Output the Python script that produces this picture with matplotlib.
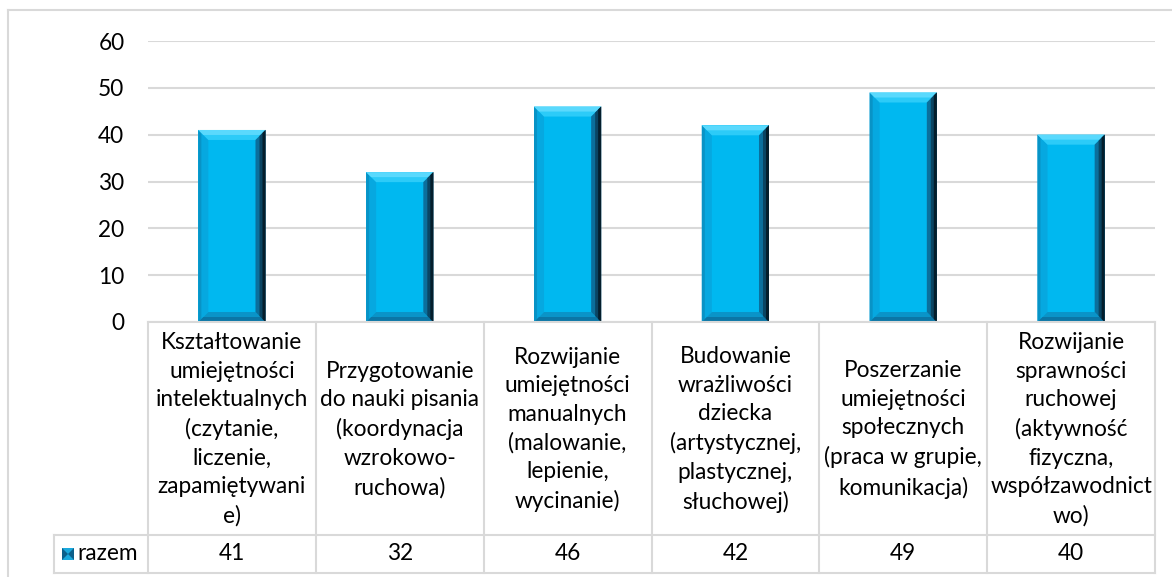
import matplotlib
matplotlib.use("Agg")
import matplotlib.pyplot as plt
from matplotlib.patches import Polygon
from matplotlib.lines import Line2D

# ====== Dane ======
categories = [
    "Kształtowanie\numiejętności\nintelektualnych\n(czytanie,\nliczenie,\nzapamiętywani\ne)",
    "Przygotowanie\ndo nauki pisania\n(koordynacja\nwzrokowo-\nruchowa)",
    "Rozwijanie\numiejętności\nmanualnych\n(malowanie,\nlepienie,\nwycinanie)",
    "Budowanie\nwrażliwości\ndziecka\n(artystycznej,\nplastycznej,\nsłuchowej)",
    "Poszerzanie\numiejętności\nspołecznych\n(praca w grupie,\nkomunikacja)",
    "Rozwijanie\nsprawności\nruchowej\n(aktywność\nfizyczna,\nwspółzawodnict\nwo)",
]
values = [41, 32, 46, 42, 49, 40]
series_name = "razem"
y_ticks = [0, 10, 20, 30, 40, 50, 60]

# ====== Układ (piksele) ======
W, H = 1172, 577
PLOT_L, PLOT_R = 148, 1155
PLOT_T, PLOT_B = 41, 322
TABLE_L, TABLE_B = 54, 573
HEAD_H = 213          # wysokość wiersza z nazwami kategorii
GRID = "#d9d9d9"
FACE = "#00b8f0"

plt.rcParams["font.family"] = ["Lato", "DejaVu Sans"]
FS = 16.3

fig = plt.figure(figsize=(W / 100, H / 100), dpi=100)

# ramka wykresu
fig.add_artist(Line2D([8 / W, 8 / W], [0, 1 - 10 / H], color=GRID, lw=1.5))
fig.add_artist(Line2D([8 / W, 1], [1 - 10 / H, 1 - 10 / H], color=GRID, lw=1.5))

ax = fig.add_axes([PLOT_L / W, 1 - PLOT_B / H, (PLOT_R - PLOT_L) / W, (PLOT_B - PLOT_T) / H])
ax.set_xlim(-0.5, len(values) - 0.5)
ax.set_ylim(y_ticks[0], y_ticks[-1])
ax.set_yticks(y_ticks)
ax.set_xticks([])
ax.tick_params(axis="y", length=0, pad=17, labelsize=FS)
for s in ax.spines.values():
    s.set_visible(False)
ax.grid(axis="y", color=GRID, lw=1.5, zorder=0)
ax.set_axisbelow(True)

bars = ax.bar(range(len(values)), values, width=0.4, color=FACE, lw=0, zorder=3)

# efekt fazowania (bevel) na słupkach
sx = (PLOT_R - PLOT_L) / len(values)
sy = (PLOT_B - PLOT_T) / (y_ticks[-1] - y_ticks[0])
bx, by = 10 / sx, 10 / sy
for b in bars:
    x0, y0 = b.get_x(), b.get_y()
    x1, y1 = x0 + b.get_width(), y0 + b.get_height()
    pieces = [
        ([(x0, y0), (x0, y1), (x0 + bx, y1 - by), (x0 + bx, y0 + by)], "#06a8e0"),
        ([(x0, y0), (x0, y1), (x0 + bx * 0.3, y1 - by * 0.3), (x0 + bx * 0.3, y0 + by * 0.3)], "#0893c6"),
        ([(x0, y0), (x1, y0), (x1 - bx, y0 + by), (x0 + bx, y0 + by)], "#0a94c8"),
        ([(x0, y0), (x1, y0), (x1 - bx * 0.5, y0 + by * 0.5), (x0 + bx * 0.5, y0 + by * 0.5)], "#0b76a6"),
        ([(x0, y1), (x1, y1), (x1 - bx, y1 - by), (x0 + bx, y1 - by)], "#2ccbf8"),
        ([(x0, y1), (x1, y1), (x1 - bx * 0.5, y1 - by * 0.5), (x0 + bx * 0.5, y1 - by * 0.5)], "#5ad9fd"),
        ([(x1, y1), (x1, y0), (x1 - bx, y0 + by), (x1 - bx, y1 - by)], "#0b6f9c"),
        ([(x1, y1), (x1, y0), (x1 - bx * 0.6, y0 + by * 0.6), (x1 - bx * 0.6, y1 - by * 0.6)], "#0a4563"),
        ([(x1, y1), (x1, y0), (x1 - bx * 0.3, y0 + by * 0.3), (x1 - bx * 0.3, y1 - by * 0.3)], "#041e2c"),
    ]
    for pts, c in pieces:
        ax.add_patch(Polygon(pts, closed=True, fc=c, ec="none", zorder=4))

# ====== Tabela danych ======
tax = fig.add_axes([TABLE_L / W, 1 - TABLE_B / H, (PLOT_R - TABLE_L) / W, (TABLE_B - PLOT_B) / H])
x_left = -0.5 - (PLOT_L - TABLE_L) / sx
x_right = len(values) - 0.5
tbl_h = TABLE_B - PLOT_B
tax.set_xlim(x_left, x_right)
tax.set_ylim(tbl_h, 0)
tax.axis("off")

lk = dict(color=GRID, lw=1.5, clip_on=False)
tax.plot([-0.5, x_right], [0, 0], **lk)
tax.plot([x_left, x_right], [HEAD_H, HEAD_H], **lk)
tax.plot([x_left, x_right], [tbl_h, tbl_h], **lk)
tax.plot([x_left, x_left], [HEAD_H, tbl_h], **lk)
for i in range(len(values) + 1):
    tax.plot([i - 0.5, i - 0.5], [0, tbl_h], **lk)

for i, (cat, v) in enumerate(zip(categories, values)):
    tax.text(i, HEAD_H / 2 + 1, cat, ha="center", va="center", fontsize=FS, linespacing=1.44)
    tax.text(i, (HEAD_H + tbl_h) / 2, str(v), ha="center", va="center", fontsize=FS)

# ikonka legendy
ix0 = x_left + 8 / sx
ix1 = ix0 + 12 / sx
ymid = (HEAD_H + tbl_h) / 2
iy0, iy1 = ymid - 6, ymid + 6
xc = (ix0 + ix1) / 2
tax.add_patch(Polygon([(ix0, iy0), (ix1, iy0), (ix1, iy1), (ix0, iy1)], fc="#1aa8dc", ec="none"))
tax.add_patch(Polygon([(ix0, iy0), (xc, ymid), (ix0, iy1)], fc="#0b5f8a", ec="none"))
tax.add_patch(Polygon([(ix1, iy0), (xc, ymid), (ix1, iy1)], fc="#0b5f8a", ec="none"))
tax.text(ix1 + 3 / sx, ymid, series_name, ha="left", va="center", fontsize=FS)

fig.savefig("out.png", dpi=100)
